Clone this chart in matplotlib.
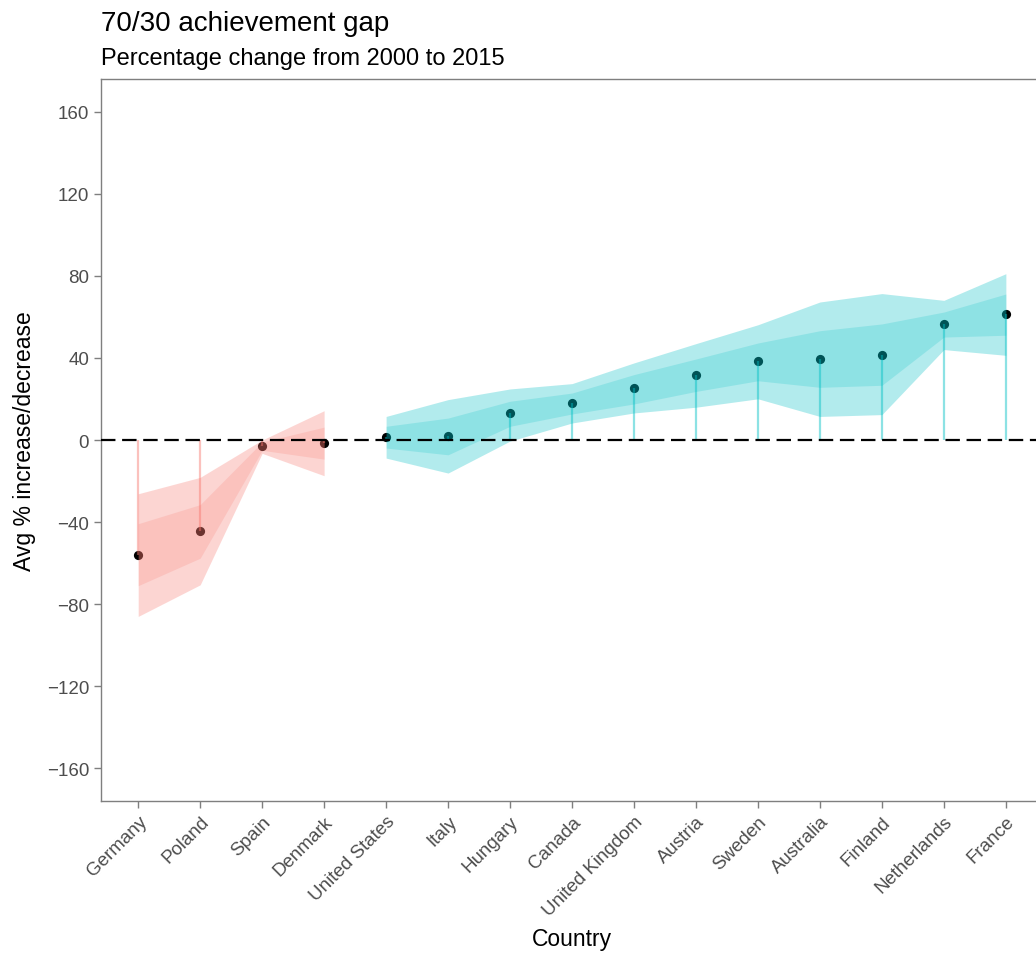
import matplotlib.pyplot as plt
import numpy as np

plt.rcParams['font.family'] = ['Liberation Sans', 'DejaVu Sans']

# данные
countries = ["Germany", "Poland", "Spain", "Denmark", "United States", "Italy",
             "Hungary", "Canada", "United Kingdom", "Austria", "Sweden",
             "Australia", "Finland", "Netherlands", "France"]
change = [-56.1, -44.4, -2.9, -1.5, 1.5, 2.0, 13.2, 18.0, 25.4, 31.7,
          38.5, 39.5, 41.5, 56.6, 61.5]
outer_lo = [-86.0, -70.6, -6.5, -17.4, -8.8, -16.1, -0.5, 8.3, 13.2, 16.0,
            20.1, 11.5, 12.4, 44.1, 41.3]
outer_hi = [-26.2, -18.2, 0.0, 14.3, 11.5, 19.7, 24.9, 27.5, 37.6, 47.0,
            56.2, 67.3, 71.4, 68.1, 81.1]
inner_lo = [-71.0, -57.6, -5.0, -9.3, -3.9, -7.2, 6.7, 12.7, 17.6, 23.7,
            28.9, 25.7, 26.7, 50.2, 51.1]
inner_hi = [-40.8, -31.5, -1.0, 6.3, 6.7, 10.7, 18.9, 22.9, 31.9, 39.5,
            47.3, 53.3, 56.6, 62.4, 71.2]
yticks = [-160, -120, -80, -40, 0, 40, 80, 120, 160]

red = '#F8766D'
cyan = '#00BFC4'

x = np.arange(1, len(countries) + 1)
change = np.array(change)
groups = [(x[:4], slice(0, 4), red), (x[4:], slice(4, None), cyan)]

fig = plt.figure(figsize=(10.36, 9.54), dpi=100)
ax = fig.add_axes([0.0975, 0.1593, 0.9093, 0.7568])

# точки, отрезки, ленты
ax.scatter(x, change, s=44, color='black', zorder=1, linewidths=0)
for xs, sl, col in groups:
    ax.vlines(xs, 0, change[sl], color=col, alpha=0.45, lw=1.6, zorder=2)
    ax.fill_between(xs, np.array(outer_lo)[sl], np.array(outer_hi)[sl],
                    color=col, alpha=0.3, lw=0, zorder=3)
    ax.fill_between(xs, np.array(inner_lo)[sl], np.array(inner_hi)[sl],
                    color=col, alpha=0.2, lw=0, zorder=3)

ax.axhline(0, color='black', ls=(0, (6.5, 3)), lw=1.6, zorder=4)

ax.set_xlim(0.4, 15.6)
ax.set_ylim(-176, 176)
ax.set_yticks(yticks)
ax.set_xticks(x)
ax.set_xticklabels(countries, rotation=45, ha='right', rotation_mode='anchor')

for s in ax.spines.values():
    s.set_color('#7f7f7f')
    s.set_linewidth(1.0)
ax.tick_params(colors='#7f7f7f', length=5, width=1.0, labelsize=13.5,
               labelcolor='#4D4D4D')

ax.set_xlabel('Country', fontsize=16.5, labelpad=6)
ax.set_ylabel('Avg % increase/decrease', fontsize=16.5, labelpad=8)

fig.text(0.0975, 0.975, '70/30 achievement gap', fontsize=20, va='center')
fig.text(0.0975, 0.938, 'Percentage change from 2000 to 2015', fontsize=17,
         va='center')

fig.savefig('out.png', dpi=100)
